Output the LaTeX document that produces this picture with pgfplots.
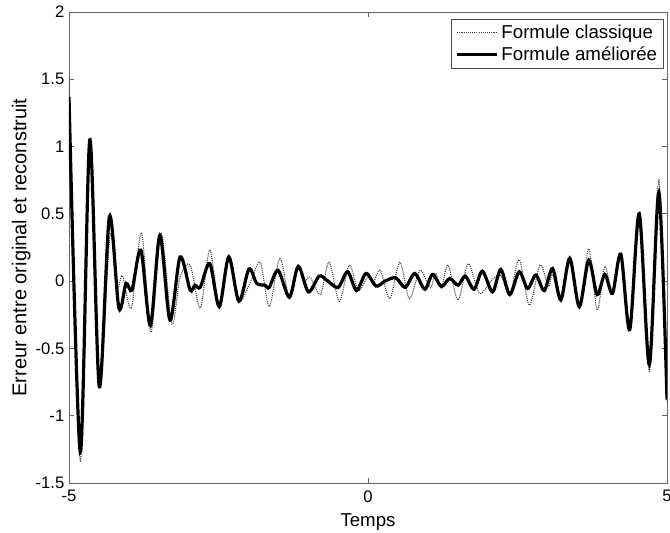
\documentclass[border=0pt]{standalone}
\usepackage{fontspec}
\setmainfont{Liberation Sans}
\usepackage{pgfplots}
\pgfplotsset{compat=1.18}
\begin{document}
\begin{tikzpicture}
\begin{axis}[
  name=main,
  scale only axis,
  width=448.5pt, height=353.25pt,
  xmin=-5, xmax=5, ymin=-1.5, ymax=2,
  xtick={-5,0,5}, xticklabels={-5,0,5},
  ytick={-1.5,-1,-0.5,0,0.5,1,1.5,2},
  yticklabels={-1.5,-1,-0.5,0,0.5,1,1.5,2},
  tick align=inside,
  major tick length=4pt,
  axis line style={black!60, line width=0.6pt},
  every tick/.style={black!60, line width=0.6pt},
  ticklabel style={font=\fontsize{12.5}{14}\selectfont},
  xticklabel style={yshift=-2pt},
  xlabel={Temps},
  ylabel={Erreur entre original et reconstruit},
  label style={font=\fontsize{14}{16}\selectfont},
  xlabel style={yshift=-2pt},
  ylabel style={yshift=-3pt, font=\fontsize{15}{17}\selectfont},
  legend style={at={(0.995,0.985)}, anchor=north east, draw=black!70,
    font=\fontsize{14}{16}\selectfont, inner xsep=3pt, inner ysep=2pt,
    row sep=1pt},
  legend cell align=left,
  legend image code/.code={\draw[#1] (0pt,0pt) -- (30pt,0pt);},
]
%--- classic formula (dotted)
\addplot[black!75, line width=0.8pt, dash pattern=on 0.8pt off 0.8pt, smooth] coordinates {
(-5.000,1.51) (-4.811,-1.34) (-4.652,1.04) (-4.493,-0.77) (-4.314,0.34)
(-4.205,-0.06) (-4.106,0.04) (-3.957,-0.20) (-3.788,0.36) (-3.629,-0.38)
(-3.460,0.36) (-3.281,-0.32) (-3.142,0.03) (-2.974,0.12) (-2.805,-0.20)
(-2.646,0.23) (-2.487,-0.19) (-2.328,0.18) (-2.159,-0.15) (-1.960,0.00)
(-1.801,0.14) (-1.652,-0.19) (-1.474,0.17) (-1.315,-0.12) (-1.166,0.10)
(-1.066,0.00) (-0.967,0.03) (-0.798,-0.10) (-0.649,0.14) (-0.480,-0.15)
(-0.312,0.12) (-0.163,-0.07) (-0.004,0.03) (0.086,-0.01) (0.205,0.08)
(0.364,-0.13) (0.533,0.14) (0.692,-0.13) (0.871,0.08) (1.039,-0.05)
(1.129,0.06) (1.228,-0.05) (1.337,0.12) (1.506,-0.14) (1.675,0.13)
(1.864,-0.09) (2.072,0.01) (2.221,0.04) (2.370,-0.10) (2.529,0.16)
(2.698,-0.18) (2.877,0.12) (3.016,-0.04) (3.086,0.05) (3.225,-0.14)
(3.374,0.17) (3.533,-0.19) (3.691,0.24) (3.831,-0.215) (3.960,0.11)
(4.089,-0.09) (4.228,0.21) (4.377,-0.37) (4.536,0.51) (4.705,-0.67)
(4.864,0.75) (5.000,-0.90)
};
\addlegendentry{Formule classique}
%--- improved formula (thick solid)
\addplot[black, line width=2.4pt, smooth] coordinates {
(-5.000,1.37) (-4.811,-1.27) (-4.652,1.05) (-4.493,-0.785) (-4.324,0.48)
(-4.166,-0.20) (-4.046,-0.017) (-3.947,-0.067) (-3.798,0.23) (-3.639,-0.33)
(-3.480,0.34) (-3.311,-0.29) (-3.142,0.18) (-2.974,-0.067) (-2.894,-0.03)
(-2.805,-0.045) (-2.646,0.13) (-2.487,-0.19) (-2.328,0.18) (-2.159,-0.15)
(-1.990,0.09) (-1.861,-0.017) (-1.722,-0.03) (-1.652,-0.047) (-1.503,0.08)
(-1.315,-0.12) (-1.166,0.11) (-0.997,-0.08) (-0.818,0.037) (-0.689,0.007)
(-0.500,-0.047) (-0.341,0.07) (-0.192,-0.07) (-0.033,0.057) (0.135,-0.037)
(0.284,0.00) (0.463,0.025) (0.622,-0.047) (0.781,0.057) (0.950,-0.06)
(1.079,0.05) (1.228,-0.04) (1.367,0.02) (1.506,-0.03) (1.625,0.037)
(1.774,-0.06) (1.913,0.074) (2.082,-0.08) (2.221,0.087) (2.370,-0.10)
(2.529,0.07) (2.668,-0.055) (2.807,0.045) (2.947,-0.07) (3.086,0.094)
(3.225,-0.14) (3.374,0.17) (3.533,-0.19) (3.691,0.156) (3.831,-0.10)
(3.960,0.05) (4.089,-0.09) (4.228,0.20) (4.377,-0.36) (4.536,0.50)
(4.705,-0.62) (4.864,0.66) (5.000,-0.88)
};
\addlegendentry{Formule améliorée}
\end{axis}
\pgfresetboundingbox
\path ([xshift=-51.75pt,yshift=-37.5pt]main.south west)
  rectangle ([xshift=2.25pt,yshift=9pt]main.north east);
\end{tikzpicture}
\end{document}
